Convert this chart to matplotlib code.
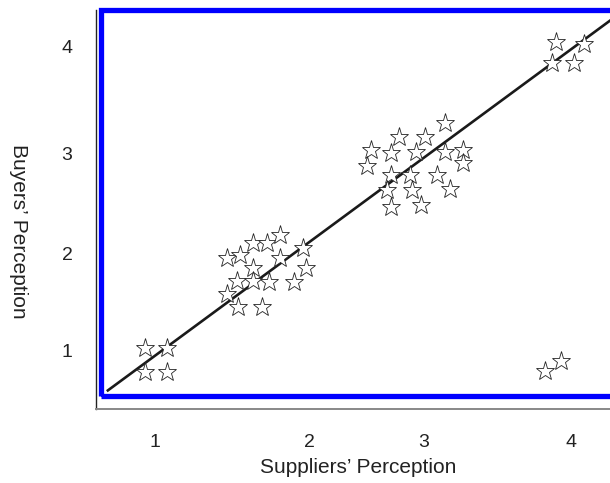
import numpy as np
import matplotlib
matplotlib.use("Agg")
import matplotlib.pyplot as plt
from matplotlib.patches import Rectangle

plt.rcParams["font.family"] = ["Liberation Sans", "DejaVu Sans"]

# buyers' vs suppliers' perception scores (one star per respondent pair)
supplier = [0.93, 1.09, 0.93, 1.09,
            1.52, 1.61, 1.71, 1.81, 1.90, 2.07, 1.90, 1.71, 2.09, 1.59, 1.71, 1.82, 2.00, 1.52, 1.60, 1.77,
            3.09, 2.76, 2.95, 2.56, 2.70, 2.88, 3.09, 3.22, 2.53, 3.22, 2.70, 2.84, 3.03, 2.67, 2.85, 3.13, 2.70, 2.92,
            3.89, 4.09, 3.86, 4.02,
            3.81, 3.93]
buyer = [1.02, 1.02, 0.78, 0.78,
         1.91, 1.94, 2.06, 2.06, 2.14, 2.01, 1.91, 1.81, 1.81, 1.68, 1.68, 1.67, 1.67, 1.55, 1.43, 1.43,
         3.25, 3.11, 3.11, 2.98, 2.95, 2.96, 2.96, 2.98, 2.82, 2.85, 2.73, 2.73, 2.73, 2.58, 2.58, 2.59, 2.42, 2.44,
         4.05, 4.03, 3.84, 3.84,
         0.79, 0.89]

# fitted line end points
fit_x = [0.66, 4.30]
fit_y = [0.60, 4.28]

# tick label positions as placed in the original figure
xtick_pos = [1.0, 2.11, 2.94, 4.0]
ytick_pos = [1.0, 1.96, 2.95, 4.0]
tick_labels = ["1", "2", "3", "4"]

fig = plt.figure(figsize=(6.10, 4.83), dpi=100)
ax = fig.add_axes([0.1574, 0.1532, 0.8426, 0.8261])
ax.set_xlim(0.5745, 4.281)
ax.set_ylim(0.416, 4.366)

# blue frame
ax.add_patch(Rectangle((0.608, 0.5495), 4.0, 4.366 - 0.5495, fill=False,
                       edgecolor="#0000ff", lw=3.8, clip_on=False, zorder=1))

ax.plot(fit_x, fit_y, color="#1a1a1a", lw=1.9, zorder=2)
ax.plot(supplier, buyer, ls="none", marker="*", ms=14, mfc="white",
        mec="#222222", mew=0.6, zorder=3)

ax.set_xticks(xtick_pos, tick_labels)
ax.set_yticks(ytick_pos, tick_labels)
ax.tick_params(length=0, labelsize=14, colors="#222222")
ax.tick_params(axis="x", pad=18)
ax.tick_params(axis="y", pad=17)

for s in ("top", "right"):
    ax.spines[s].set_visible(False)
ax.spines["left"].set_color("#222222")
ax.spines["left"].set_linewidth(1.0)
ax.spines["bottom"].set_color("#888888")
ax.spines["bottom"].set_linewidth(1.4)

ax.set_xlabel("Suppliers\u2019 Perception", fontsize=15, color="#222222")
ax.xaxis.set_label_coords(0.510, -0.123)
ax.set_ylabel("Buyers\u2019 Perception", fontsize=15, color="#222222",
              rotation=270, ha="center", va="center")
ax.yaxis.set_label_coords(-0.150, 0.446)

fig.savefig("out.png", dpi=100)
